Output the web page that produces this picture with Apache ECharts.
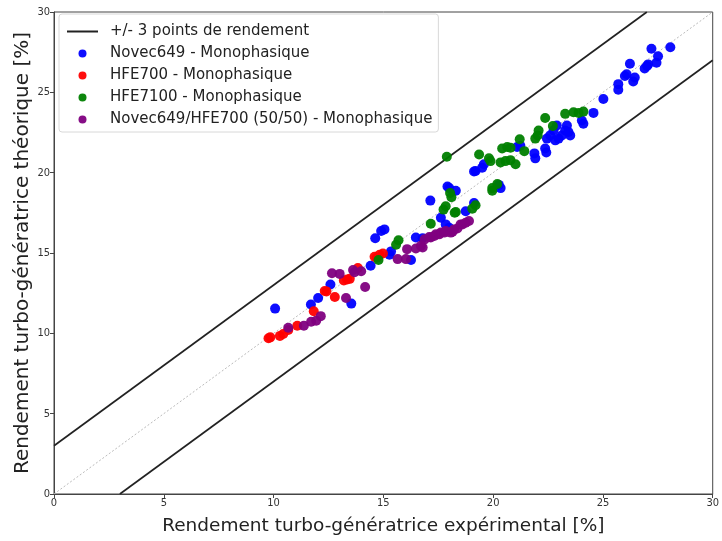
<!DOCTYPE html>
<html>
<head>
<meta charset="utf-8">
<script src="https://cdn.jsdelivr.net/npm/echarts@6/dist/echarts.min.js"></script>
<style>html,body{margin:0;padding:0;background:#fff;}#c{width:722px;height:541px;}</style>
</head>
<body>
<div id="c"></div>
<script>
var xTicks = [0, 5, 10, 15, 20, 25, 30];
var yTicks = [0, 5, 10, 15, 20, 25, 30];
var bandName = '+/- 3 points de rendement';
var upperLine = [[0, 3], [27, 30]];
var lowerLine = [[3, 0], [30, 27]];
var diagLine = [[0, 0], [30, 30]];

var novec649 = [
 [10.07,11.54],[11.70,11.79],[12.03,12.20],[12.59,13.04],[13.54,11.85],[14.42,14.21],
 [14.63,15.92],[14.90,16.37],[15.05,16.47],[15.28,14.89],[15.35,15.10],[16.26,14.56],
 [16.48,15.96],[16.79,15.92],[17.14,18.26],[17.62,17.19],[17.84,16.78],[18.00,16.57],
 [17.92,19.14],[18.00,19.04],[18.30,18.87],[18.75,17.60],[19.13,18.11],[19.13,20.07],
 [19.20,20.10],[19.50,20.31],[19.58,20.52],[20.26,19.24],[20.34,19.04],[21.09,21.60],
 [21.24,21.67],[21.88,21.20],[21.92,20.89],[22.37,21.50],[22.42,21.26],[22.45,22.12],
 [22.60,22.32],[22.75,22.63],[22.90,22.94],[22.83,22.01],[22.98,22.12],[23.13,22.32],
 [23.28,22.63],[23.36,22.94],[23.43,22.53],[23.51,22.32],[24.04,23.25],[24.11,23.04],
 [24.57,23.72],[25.02,24.58],[25.70,25.16],[25.70,25.51],[26.00,26.02],[26.08,26.12],
 [26.23,26.78],[26.38,25.67],[26.45,25.92],[26.90,26.48],[27.01,26.64],[27.06,26.74],
 [27.44,26.84],[27.51,27.25],[27.21,27.71],[28.07,27.81]
];
var hfe700 = [
 [9.77,9.69],[9.85,9.75],[10.29,9.84],[10.44,9.96],[10.67,10.21],[11.08,10.47],[11.83,11.38],
 [12.33,12.63],[12.41,12.61],[12.79,12.26],[13.20,13.29],[13.35,13.35],[13.47,13.39],
 [13.84,14.07],[14.60,14.77],[14.70,14.70],[14.83,14.89],[14.98,14.97]
];
var hfe7100 = [
 [14.78,14.56],[15.58,15.51],[15.69,15.79],[17.16,16.82],[17.74,17.70],[17.84,17.91],
 [18.04,18.73],[18.10,18.47],[18.25,17.50],[18.30,17.55],[19.05,17.76],[19.20,17.97],
 [17.89,20.99],[19.36,21.13],[19.81,20.89],[19.88,20.72],[19.96,18.87],[19.96,19.04],
 [20.19,19.29],[20.34,20.64],[20.56,20.72],[20.79,20.78],[21.02,20.52],[20.41,21.50],
 [20.64,21.60],[20.79,21.55],[21.21,22.08],[21.42,21.34],[21.92,22.12],[22.03,22.32],
 [22.07,22.63],[22.37,23.40],[22.72,22.90],[23.28,23.66],[23.66,23.76],[23.89,23.72],
 [24.11,23.80]
];
var mix5050 = [
 [10.67,10.35],[11.38,10.47],[11.71,10.72],[11.94,10.78],[12.15,11.07],[12.66,13.74],
 [13.01,13.70],[13.30,12.20],[13.62,13.94],[13.69,13.80],[13.99,13.86],[14.17,12.88],
 [15.65,14.62],[16.03,14.62],[16.08,15.24],[16.48,15.28],[16.71,15.45],[16.79,15.34],
 [16.88,15.85],[17.09,16.00],[17.16,15.96],[17.32,16.06],[17.39,16.16],[17.54,16.16],
 [17.62,16.27],[17.77,16.27],[17.84,16.37],[18.07,16.27],[18.15,16.33],[18.22,16.47],
 [18.37,16.53],[18.52,16.78],[18.60,16.78],[18.75,16.88],[18.90,16.99]
];

var FONT = 'DejaVu Sans';
var chart = echarts.init(document.getElementById('c'), null, {renderer: 'canvas'});

function scatter(name, data, color) {
  return {
    name: name, type: 'scatter', data: data, symbol: 'circle', symbolSize: 10,
    itemStyle: {color: color, opacity: 0.95}, z: 5
  };
}

chart.setOption({
  animation: false,
  backgroundColor: '#ffffff',
  grid: {left: 54, right: 6, top: 12, bottom: 42, show: true, borderColor: '#444', borderWidth: 1, backgroundColor: 'transparent'},
  legend: {
    orient: 'vertical', left: 59, top: 14,
    padding: [10, 6, 5, 7],
    itemWidth: 31, itemHeight: 8, itemGap: 7,
    borderColor: '#d8d8d8', borderWidth: 1, borderRadius: 3, backgroundColor: '#fff',
    textStyle: {fontFamily: FONT, fontSize: 15, color: '#222', padding: [0, 0, 0, 7]},
    data: [
      {name: bandName, itemStyle: {color: 'rgba(0,0,0,0)', borderWidth: 0}},
      {name: 'Novec649 - Monophasique', icon: 'circle'},
      {name: 'HFE700 - Monophasique', icon: 'circle'},
      {name: 'HFE7100 - Monophasique', icon: 'circle'},
      {name: 'Novec649/HFE700 (50/50) - Monophasique', icon: 'circle'}
    ]
  },
  xAxis: {
    type: 'value', min: xTicks[0], max: xTicks[xTicks.length - 1], interval: 5,
    name: 'Rendement turbo-génératrice expérimental [%]', nameLocation: 'middle', nameGap: 23,
    nameMoveOverlap: false,
    nameTextStyle: {fontFamily: FONT, fontSize: 18.5, color: '#222'},
    axisLine: {show: true, lineStyle: {color: '#444', width: 1}},
    axisTick: {show: true, length: 4, lineStyle: {color: '#444'}},
    axisLabel: {fontFamily: 'DejaVu Sans Condensed', fontSize: 11, color: '#333', margin: 4},
    splitLine: {show: false}
  },
  yAxis: {
    type: 'value', min: yTicks[0], max: yTicks[yTicks.length - 1], interval: 5,
    name: 'Rendement turbo-génératrice théorique [%]', nameLocation: 'middle', nameGap: 21,
    nameMoveOverlap: false,
    nameTextStyle: {fontFamily: FONT, fontSize: 20, color: '#222'},
    axisLine: {show: true, lineStyle: {color: '#444', width: 1}},
    axisTick: {show: true, length: 4, lineStyle: {color: '#444'}},
    axisLabel: {fontFamily: 'DejaVu Sans Condensed', fontSize: 11, color: '#333', margin: 4},
    splitLine: {show: false}
  },
  series: [
    {name: bandName, type: 'line', data: upperLine, symbol: 'none', itemStyle: {color: 'rgba(0,0,0,0)'}, lineStyle: {color: '#222', width: 1.7}, z: 3},
    {name: bandName, type: 'line', data: lowerLine, symbol: 'none', itemStyle: {color: 'rgba(0,0,0,0)'}, lineStyle: {color: '#222', width: 1.7}, z: 3},
    {name: 'diag', type: 'line', data: diagLine, symbol: 'none', lineStyle: {color: '#bbb', width: 1, type: [2, 2]}, z: 2},
    scatter('Novec649 - Monophasique', novec649, '#0000ff'),
    scatter('HFE700 - Monophasique', hfe700, '#ff0000'),
    scatter('HFE7100 - Monophasique', hfe7100, '#008000'),
    scatter('Novec649/HFE700 (50/50) - Monophasique', mix5050, '#800080')
  ]
});
</script>
</body>
</html>
